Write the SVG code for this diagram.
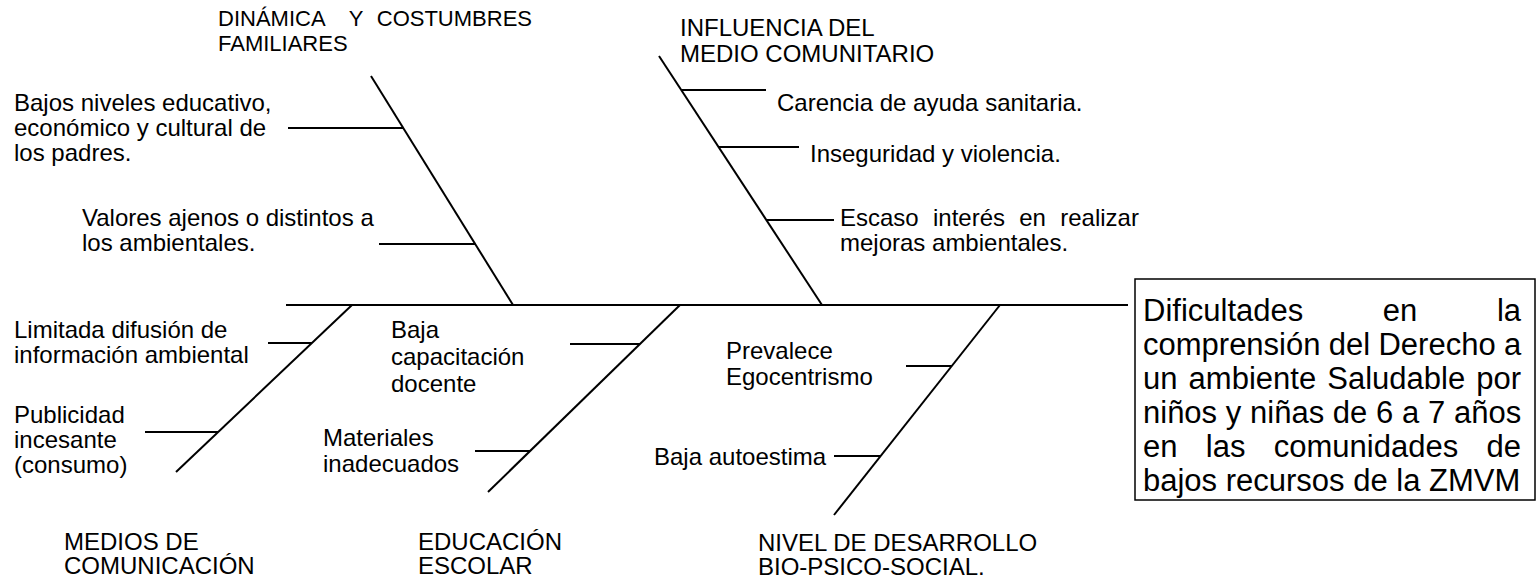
<svg xmlns="http://www.w3.org/2000/svg" width="1537" height="580" viewBox="0 0 1537 580">
<style>
text{font-family:"Liberation Sans",Arial,sans-serif;fill:#000}
.t{font-size:24px}
.h{font-size:22px}
.b{font-size:31px}
.ln{stroke:#000;stroke-width:2;fill:none}
.box{stroke:#000;stroke-width:1.5;fill:#fff}
</style>
<rect width="1537" height="580" fill="#fff"/>
<g id="connectors">
<line class="ln" x1="286" y1="305" x2="1128" y2="305"/>
<line class="ln" x1="371" y1="76" x2="513" y2="305"/>
<line class="ln" x1="288" y1="128" x2="403" y2="128"/>
<line class="ln" x1="379" y1="244" x2="475" y2="244"/>
<line class="ln" x1="659" y1="56" x2="822" y2="305"/>
<line class="ln" x1="681" y1="90" x2="766" y2="90"/>
<line class="ln" x1="719" y1="147" x2="799" y2="147"/>
<line class="ln" x1="766" y1="220" x2="834" y2="220"/>
<line class="ln" x1="352" y1="305" x2="176" y2="472"/>
<line class="ln" x1="268" y1="343" x2="312" y2="343"/>
<line class="ln" x1="145" y1="432" x2="218" y2="432"/>
<line class="ln" x1="680" y1="305" x2="488" y2="492"/>
<line class="ln" x1="570" y1="344" x2="640" y2="344"/>
<line class="ln" x1="475" y1="451" x2="530" y2="451"/>
<line class="ln" x1="1000" y1="305" x2="834" y2="515"/>
<line class="ln" x1="906" y1="366" x2="952" y2="366"/>
<line class="ln" x1="834" y1="456" x2="881" y2="456"/>
</g>
<g id="cat-familia">
<text class="h" x="218" y="26">DINÁMICA</text>
<text class="h" x="356" y="26" text-anchor="middle">Y</text>
<text class="h" x="532" y="26" text-anchor="end">COSTUMBRES</text>
<text class="h" x="218" y="51">FAMILIARES</text>
</g>
<g id="cause-bajos">
<text class="t" x="14" y="111">Bajos niveles educativo,</text>
<text class="t" x="14" y="136">económico y cultural de</text>
<text class="t" x="14" y="161">los padres.</text>
</g>
<g id="cause-valores">
<text class="t" x="82" y="226">Valores ajenos o distintos a</text>
<text class="t" x="82" y="251">los ambientales.</text>
</g>
<g id="cat-comunitario">
<text class="t" x="680" y="36">INFLUENCIA DEL</text>
<text class="t" x="680" y="62">MEDIO COMUNITARIO</text>
</g>
<g id="cause-carencia"><text class="t" x="777" y="111">Carencia de ayuda sanitaria.</text></g>
<g id="cause-inseguridad"><text class="t" x="810" y="162">Inseguridad y violencia.</text></g>
<g id="cause-escaso">
<text class="t" x="840" y="226" word-spacing="7.6">Escaso interés en realizar</text>
<text class="t" x="840" y="251">mejoras ambientales.</text>
</g>
<g id="cause-limitada">
<text class="t" x="14" y="338">Limitada difusión de</text>
<text class="t" x="14" y="363">información ambiental</text>
</g>
<g id="cause-publicidad">
<text class="t" x="14" y="423">Publicidad</text>
<text class="t" x="14" y="448">incesante</text>
<text class="t" x="14" y="473">(consumo)</text>
</g>
<g id="cat-medios">
<text class="t" x="64" y="550">MEDIOS DE</text>
<text class="t" x="64" y="574">COMUNICACIÓN</text>
</g>
<g id="cause-capacitacion">
<text class="t" x="391" y="338">Baja</text>
<text class="t" x="391" y="365">capacitación</text>
<text class="t" x="391" y="392">docente</text>
</g>
<g id="cause-materiales">
<text class="t" x="323" y="446">Materiales</text>
<text class="t" x="323" y="472">inadecuados</text>
</g>
<g id="cat-educacion">
<text class="t" x="418" y="550">EDUCACIÓN</text>
<text class="t" x="418" y="574">ESCOLAR</text>
</g>
<g id="cause-egocentrismo">
<text class="t" x="726" y="359">Prevalece</text>
<text class="t" x="726" y="385">Egocentrismo</text>
</g>
<g id="cause-autoestima"><text class="t" x="654" y="465">Baja autoestima</text></g>
<g id="cat-desarrollo">
<text class="t" x="758" y="551">NIVEL DE DESARROLLO</text>
<text class="t" x="758" y="575">BIO-PSICO-SOCIAL.</text>
</g>
<g id="effect">
<rect class="box" x="1135" y="279" width="400" height="221"/>
<text class="b" x="1143" y="321" word-spacing="71">Dificultades en la</text>
<text class="b" x="1143" y="355" word-spacing="-0.3">comprensión del Derecho a</text>
<text class="b" x="1143" y="389" word-spacing="2.5">un ambiente Saludable por</text>
<text class="b" x="1143" y="423" word-spacing="0.1">niños y niñas de 6 a 7 años</text>
<text class="b" x="1143" y="457" word-spacing="19.7">en las comunidades de</text>
<text class="b" x="1143" y="491">bajos recursos de la ZMVM</text>
</g>
</svg>
